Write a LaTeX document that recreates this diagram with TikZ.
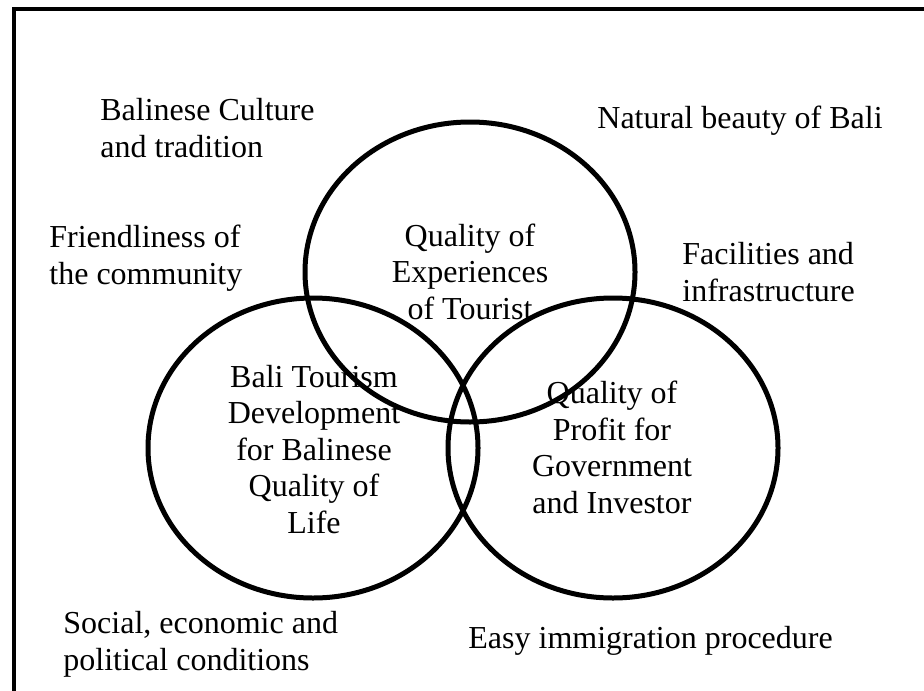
\documentclass[tikz,border=0pt]{standalone}
\usepackage{fontspec}
\setmainfont{Liberation Serif}

\tikzset{
  venn/.style={line width=2.5pt},
  factor/.style={anchor=base west, align=left, inner sep=0pt,
    font=\fontsize{16}{18.2}\selectfont},
  core/.style={anchor=base, align=center, inner sep=0pt,
    font=\fontsize{16}{18.2}\selectfont}
}

\begin{document}
\begin{tikzpicture}[x=0.5pt, y=-0.5pt]

\useasboundingbox (0,0) rectangle (924,690);
\clip (0,0) rectangle (924,690);

% outer frame, runs off the right and bottom edge
\draw[line width=2.2pt] (14,9) rectangle (960,720);

\coordinate (tourist) at (470,272);
\coordinate (life) at (313,448);
\coordinate (profit) at (613,448);

\draw[venn] (tourist) ellipse [x radius=165, y radius=150];
\draw[venn] (life) ellipse [x radius=165, y radius=150];
\draw[venn] (profit) ellipse [x radius=165, y radius=150];

% texts inside the circles (placed at the baseline of the last line)
\node[core] (touristtext) at (470,319) {Quality of\\Experiences\\of Tourist};
\node[core] (lifetext) at (314,533) {Bali Tourism\\Development\\for Balinese\\Quality of\\Life};
\node[core] (profittext) at (612,513) {Quality of\\Profit for\\Government\\and Investor};

% factors around
\node[factor] (culture) at (100,157) {Balinese Culture\\and tradition};
\node[factor] (friendly) at (49,284) {Friendliness of\\the community};
\node[factor] (nature) at (597,128) {Natural beauty of Bali};
\node[factor] (facilities) at (682,301) {Facilities and\\infrastructure};
\node[factor] (social) at (63,670) {Social, economic and\\political conditions};
\node[factor] (immigration) at (468,648) {Easy immigration procedure};

\end{tikzpicture}
\end{document}
